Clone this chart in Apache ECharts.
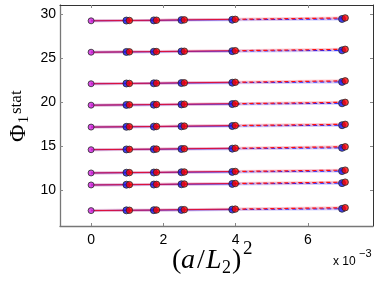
<!DOCTYPE html>
<html>
<head>
<meta charset="utf-8">
<script src="https://cdn.jsdelivr.net/npm/echarts@6/dist/echarts.min.js"></script>
<style>
html,body{margin:0;padding:0;background:#fff;}
#c{width:378px;height:284px;}
</style>
</head>
<body>
<div id="c"></div>
<script>
// ---- data ----
const xTicks = [0, 0.002, 0.004, 0.006];
const yTicks = [10, 15, 20, 25, 30];
const blueX = [0.000977, 0.001736, 0.0025, 0.003906, 0.006944];
const redX  = [0.00106, 0.00181, 0.00258, 0.00399, 0.00703];
const intercepts = [29.21, 25.66, 22.09, 19.67, 17.19, 14.63, 12.00, 10.64, 7.74];
const blueVals = [
  [29.24, 29.26, 29.29, 29.33, 29.42],
  [25.69, 25.71, 25.74, 25.78, 25.87],
  [22.12, 22.14, 22.17, 22.21, 22.30],
  [19.70, 19.72, 19.75, 19.79, 19.88],
  [17.22, 17.24, 17.27, 17.31, 17.40],
  [14.66, 14.68, 14.71, 14.75, 14.84],
  [12.03, 12.05, 12.08, 12.12, 12.21],
  [10.67, 10.69, 10.72, 10.76, 10.85],
  [7.77, 7.79, 7.82, 7.86, 7.95]
];
const redVals = [
  [29.25, 29.28, 29.32, 29.38, 29.54],
  [25.70, 25.73, 25.77, 25.83, 25.99],
  [22.13, 22.16, 22.20, 22.26, 22.42],
  [19.71, 19.74, 19.78, 19.84, 19.99],
  [17.23, 17.26, 17.30, 17.36, 17.50],
  [14.67, 14.70, 14.74, 14.80, 14.96],
  [12.04, 12.07, 12.11, 12.17, 12.32],
  [10.68, 10.71, 10.75, 10.81, 10.96],
  [7.78, 7.81, 7.85, 7.91, 8.07]
];

const chart = echarts.init(document.getElementById('c'), null, {renderer: 'canvas'});
const series = [];
const pairs = (xs, ys) => xs.map((x, i) => [x, ys[i]]);

intercepts.forEach((y0, g) => {
  const bp = pairs(blueX, blueVals[g]);
  const rp = pairs(redX, redVals[g]);
  const bSolid = [[0, y0]].concat(bp.slice(0, 4));
  const rSolid = [[0, y0]].concat(rp.slice(0, 4));
  const common = {type: 'line', symbol: 'none', silent: true, animation: false};
  // translucent bands
  series.push(Object.assign({}, common, {data: bSolid.concat([bp[4]]), z: 1,
    lineStyle: {color: 'rgba(130,130,255,0.35)', width: 3}}));
  series.push(Object.assign({}, common, {data: rSolid.concat([rp[4]]), z: 1,
    lineStyle: {color: 'rgba(255,130,140,0.4)', width: 3}}));
  // blue fit
  series.push(Object.assign({}, common, {data: bSolid, z: 2,
    lineStyle: {color: '#3030ff', width: 1}}));
  series.push(Object.assign({}, common, {data: bp.slice(3), z: 2,
    lineStyle: {color: '#2020ff', width: 1, type: [4, 3], dashOffset: 3}}));
  // red fit
  series.push(Object.assign({}, common, {data: rSolid, z: 3,
    lineStyle: {color: '#e0103a', width: 1}}));
  series.push(Object.assign({}, common, {data: rp.slice(3), z: 3,
    lineStyle: {color: '#ff1010', width: 1.2, type: [4, 3]}}));
});

const allBlue = [], allRed = [], allMag = [];
intercepts.forEach((y0, g) => {
  allMag.push([0, y0]);
  blueX.forEach((x, i) => allBlue.push([x, blueVals[g][i]]));
  redX.forEach((x, i) => allRed.push([x, redVals[g][i]]));
});
const sc = (data, color, size, z) => ({type: 'scatter', data, symbol: 'circle', symbolSize: size, z,
  animation: false, silent: true,
  itemStyle: {color, borderColor: '#2a2a2a', borderWidth: 1}});
series.push(sc(allBlue, '#1010f0', 7, 4));
series.push(sc(allRed, '#ff0000', 6.5, 5));
series.push(sc(allMag, '#d020e0', 6, 6));

const baseX = {
  type: 'value', min: -0.00086, max: 0.0078,
  splitLine: {show: false},
  axisTick: {show: true, inside: true, length: 3, customValues: xTicks, lineStyle: {color: '#888'}}
};
const baseY = {
  type: 'value', min: 6, max: 31,
  splitLine: {show: false},
  axisTick: {show: true, inside: true, length: 3, customValues: yTicks, lineStyle: {color: '#888'}}
};

const serif = 'Liberation Serif';
const T = (x, y, text, size, extra) => ({type: 'text', x, y, silent: true, style: Object.assign({
  text, fontFamily: serif, fontSize: size, fill: '#000', align: 'left', verticalAlign: 'middle'}, extra || {})});

const option = {
  backgroundColor: '#fff',
  animation: false,
  grid: {left: 60, right: 5, top: 5, bottom: 58, containLabel: false},
  xAxis: [
    Object.assign({}, baseX, {position: 'bottom',
      axisLine: {show: true, onZero: false, lineStyle: {color: '#777', width: 1.3}},
      axisLabel: {show: true, customValues: xTicks, margin: 7, fontSize: 14,
        fontFamily: 'Liberation Sans', color: '#000',
        formatter: v => String(Math.round(v * 1000))}}),
    Object.assign({}, baseX, {position: 'top',
      axisLine: {show: true, onZero: false, lineStyle: {color: '#333', width: 1}},
      axisLabel: {show: false}})
  ],
  yAxis: [
    Object.assign({}, baseY, {position: 'left',
      axisLine: {show: true, onZero: false, lineStyle: {color: '#777', width: 1.3}},
      axisLabel: {show: true, customValues: yTicks, margin: 4, fontSize: 14,
        fontFamily: 'Liberation Sans', color: '#000'}}),
    Object.assign({}, baseY, {position: 'right',
      axisLine: {show: true, onZero: false, lineStyle: {color: '#333', width: 1}},
      axisLabel: {show: false}})
  ],
  series,
  graphic: [
    // x axis title (a/L_2)^2, baseline ~270
    T(172, 260.5, '(', 28),
    T(181, 260.5, 'a', 28, {fontStyle: 'italic'}),
    T(197, 260.5, '/', 28),
    T(206, 260.5, 'L', 28, {fontStyle: 'italic'}),
    T(222, 268, '2', 18),
    T(232, 260.5, ')', 28),
    T(243, 249, '2', 19),
    // exponent
    {type: 'text', x: 333, y: 262, silent: true, style: {
      text: 'x 10', fontFamily: 'Liberation Sans', fontSize: 12, fill: '#000', verticalAlign: 'middle'}},
    {type: 'text', x: 359, y: 254, silent: true, style: {
      text: '\u22123', fontFamily: 'Liberation Sans', fontSize: 11, fill: '#000', verticalAlign: 'middle'}},
    // y axis title Phi_1^stat (rotated)
    {type: 'group', x: 25, y: 142, rotation: Math.PI / 2, silent: true, children: [
      T(0, -6.5, '\u03A6', 24),
      T(19, -1, '1', 14),
      T(28, -8.5, 'stat', 17)
    ]}
  ]
};
chart.setOption(option);
</script>
</body>
</html>
